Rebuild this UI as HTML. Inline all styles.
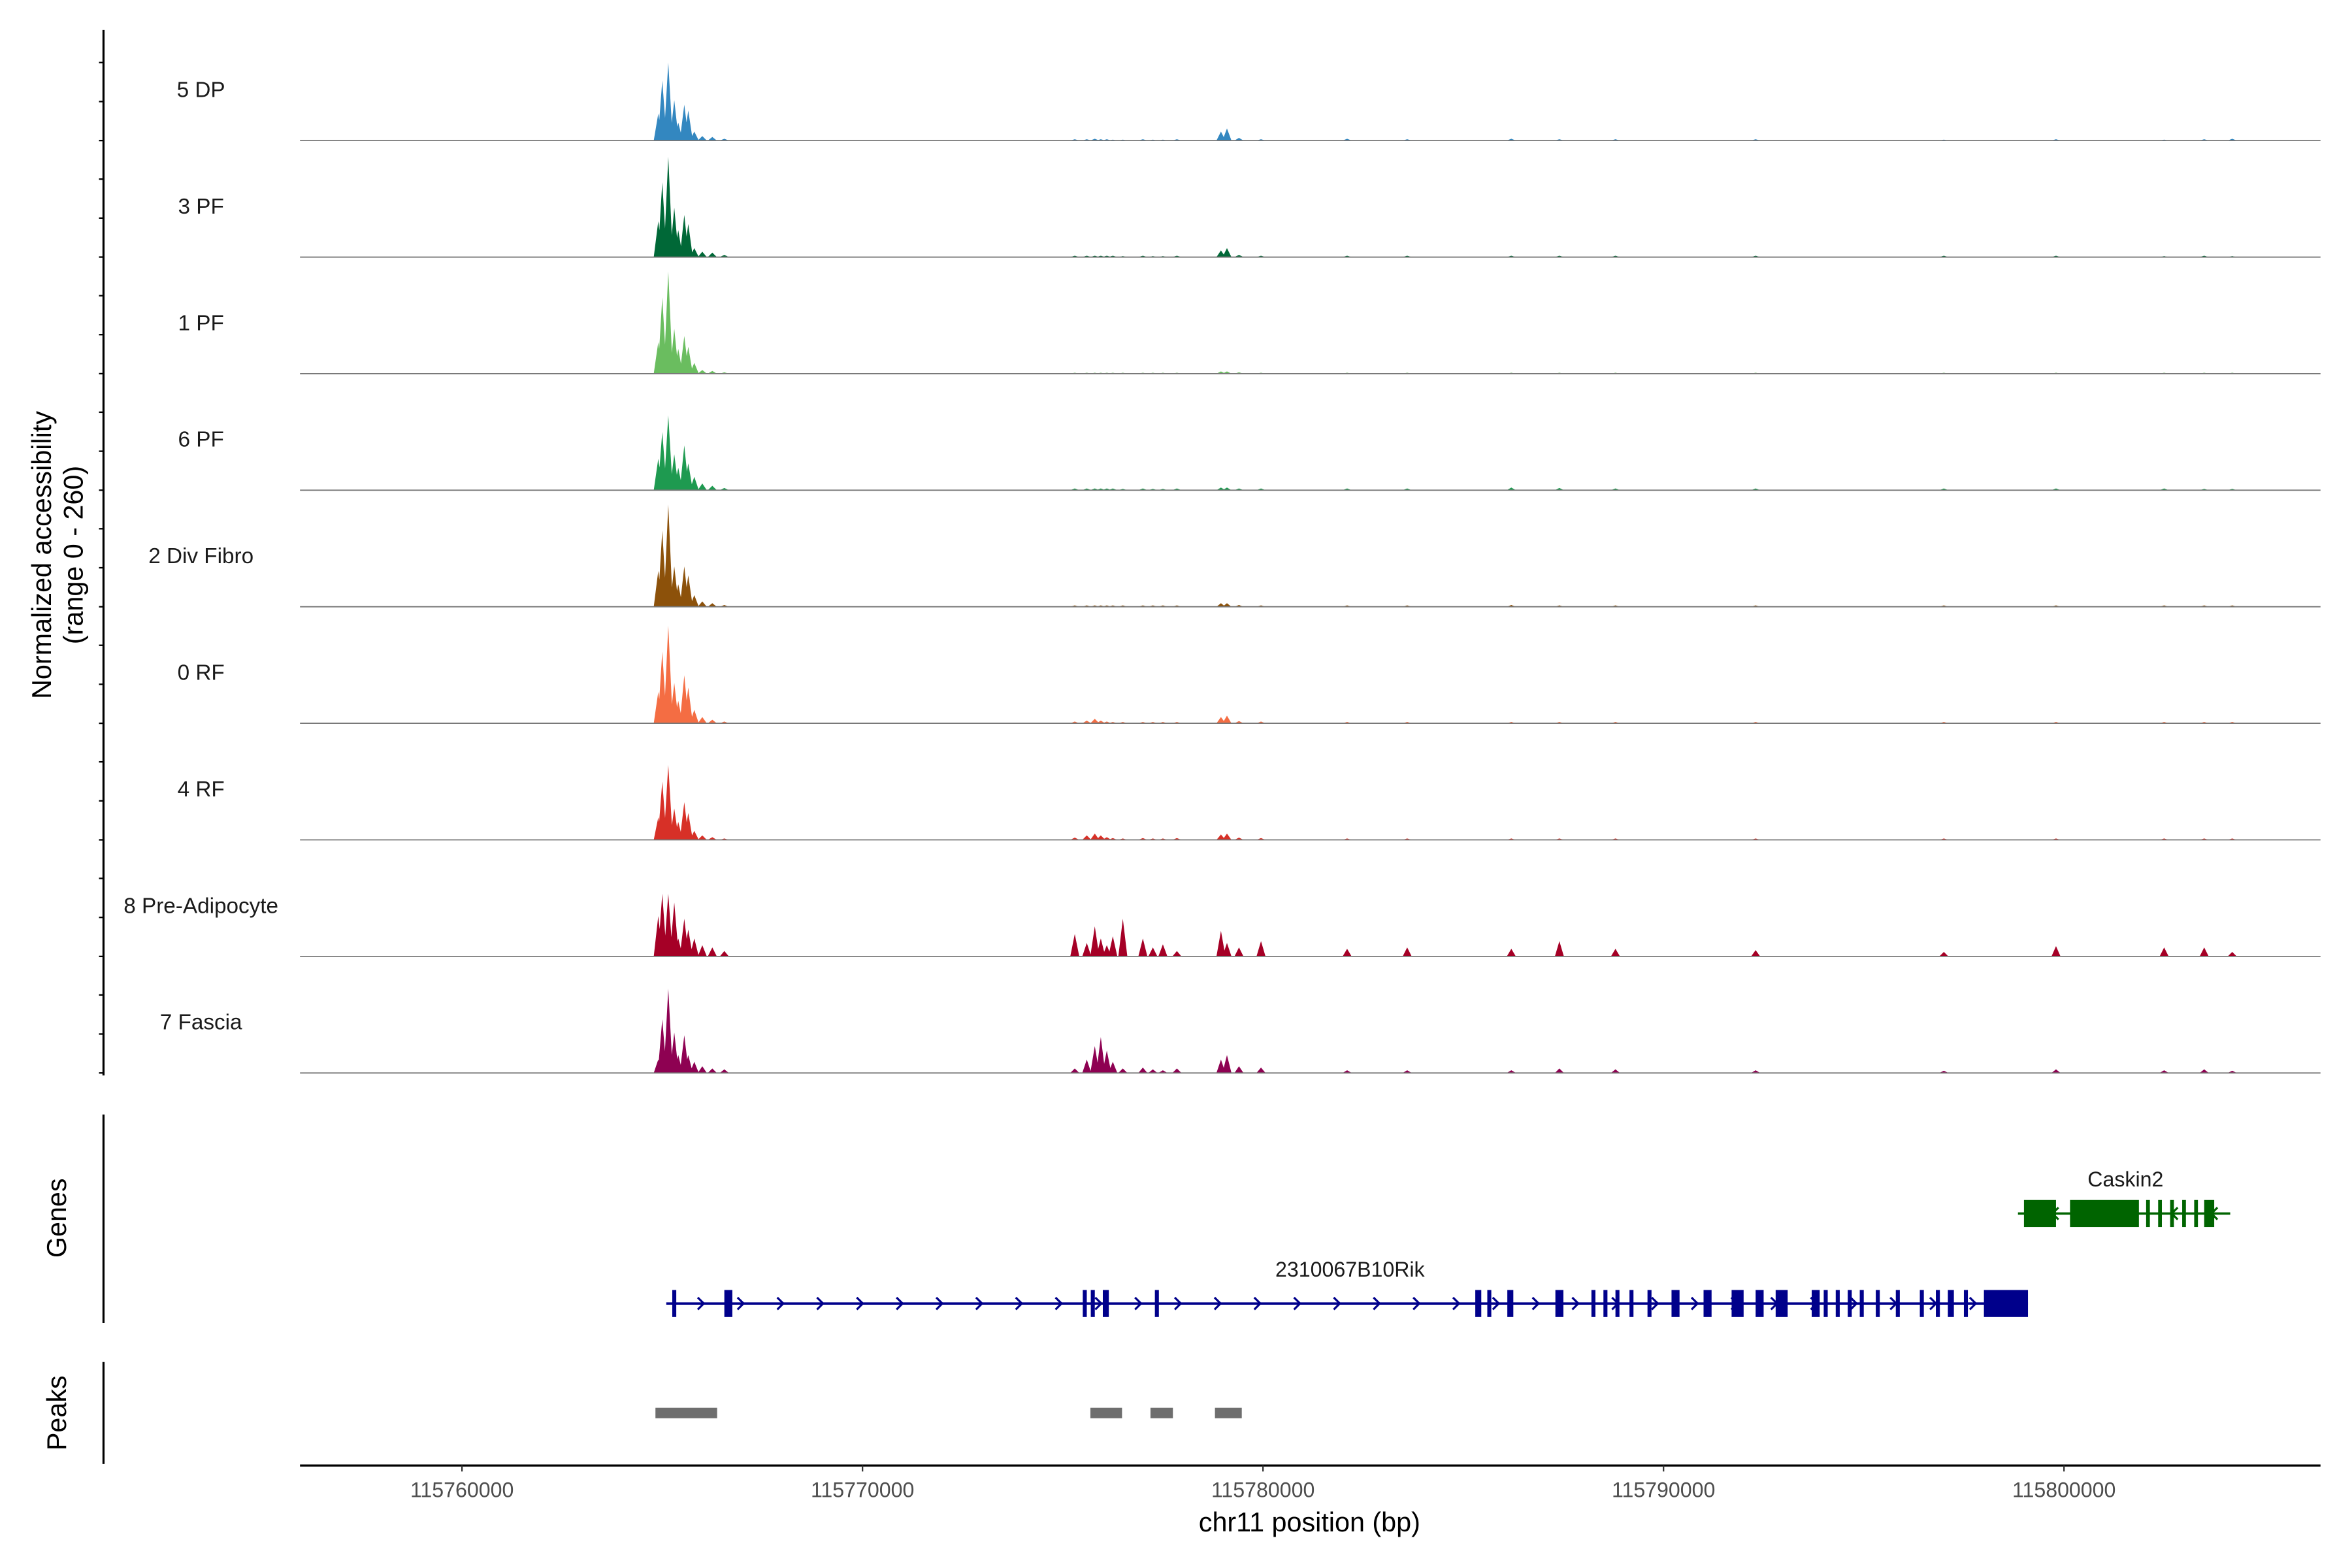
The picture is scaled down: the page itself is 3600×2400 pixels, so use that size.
<!DOCTYPE html>
<html><head><meta charset="utf-8"><style>html,body{margin:0;padding:0;background:#fff}svg{display:block}text{font-family:"Liberation Sans",sans-serif}</style></head>
<body>
<svg id="chart" width="3600" height="2400" viewBox="0 0 1568 1045.33" xmlns="http://www.w3.org/2000/svg">
<g id="tracks"></g>
<g id="genes"></g>
<g id="peaks"></g>
<g id="axes"></g>
</svg>
<script>
// ---- data ----
const trackNames = ["5 DP","3 PF","1 PF","6 PF","2 Div Fibro","0 RF","4 RF","8 Pre-Adipocyte","7 Fascia"];
const trackColors = ["#3387c0","#006837","#6abd5f","#1e9a50","#8c510a","#f46d43","#d73027","#a50026","#8e0152"];
const yMax = 260;
const xTicks = [115760000,115770000,115780000,115790000,115800000];
const xTickLabels = ["115760000","115770000","115780000","115790000","115800000"];
const peakPos = [115764900,115765000,115765150,115765300,115765400,115765550,115765650,115765800,115766000,115766250,115766550,
 115775300,115775600,115775800,115775950,115776100,115776250,115776500,115777000,115777250,115777500,115777850,
 115778950,115779100,115779400,115779950,115782100,115783600,115786200,115787400,115788800,115792300,115797000,115799800,115802500,115803500,115804200];
const sig5DP   = [60,134,174,90,40,80,67,20,10,8,4, 3,3,4,3,3,2,2,3,2,2,3, 20,27,6,3,4,3,4,3,3,3,2,3,2,3,4];
const sig3PF   = [80,167,224,110,60,94,74,20,12,10,5, 3,3,3,3,3,3,2,3,2,2,3, 15,20,5,3,3,3,3,3,3,3,3,3,2,3,2];
const sig1PF   = [70,170,228,100,55,84,60,24,8,6,3, 2,2,2,2,2,2,2,2,2,2,2, 5,5,3,2,2,2,2,2,2,2,2,2,2,2,2];
const sig6PF   = [70,130,167,80,50,100,60,30,15,10,5, 4,4,4,4,4,4,3,4,3,3,4, 6,6,4,4,4,4,6,5,4,4,4,4,4,3,3];
const sigDiv   = [80,170,228,90,50,90,70,26,12,8,4, 3,3,3,3,3,3,3,3,3,3,3, 8,8,4,3,3,3,4,3,3,3,3,3,3,3,3];
const sig0RF   = [70,160,218,90,50,107,80,30,14,8,4, 4,6,10,6,4,3,3,3,3,3,3, 14,17,5,4,3,3,3,3,3,3,3,3,3,3,3];
const sig4RF   = [50,130,167,70,40,84,60,20,10,6,3, 5,10,14,10,6,4,3,4,3,3,4, 12,14,5,4,3,3,3,3,3,3,3,3,3,3,3];
const sigPreAd = [90,140,140,120,40,84,60,40,25,20,12, 50,30,67,40,25,45,84,40,20,27,12, 57,30,20,34,17,20,17,34,17,14,10,23,20,20,10];
const sigFascia= [30,120,188,90,40,84,40,25,15,10,8, 10,30,60,80,50,25,10,12,8,6,10, 30,40,15,12,6,6,6,10,8,6,5,8,6,8,5];
const allSig = [sig5DP,sig3PF,sig1PF,sig6PF,sigDiv,sig0RF,sig4RF,sigPreAd,sigFascia];
const ridExons = [[115765250,115765350,1],[115766550,115766750,1],[115775500,115775600,1],[115775700,115775800,1],[115776000,115776150,1],[115777300,115777400,1],[115785300,115785450,1],[115785600,115785700,1],[115786100,115786250,1],[115787300,115787500,1],[115788200,115788300,1],[115788500,115788600,1],[115788800,115788900,1],[115789150,115789250,1],[115789600,115789700,1],[115790200,115790400,1],[115791000,115791200,1],[115791700,115792000,1],[115792300,115792500,1],[115792800,115793100,1],[115793700,115793900,1],[115794000,115794100,1],[115794300,115794400,1],[115794600,115794700,1],[115794900,115795000,1],[115795300,115795400,1],[115795800,115795900,1],[115796400,115796500,1],[115796800,115796900,1],[115797100,115797250,1],[115797500,115797600,1],[115798000,115799100,1]];
const caskExons = [[115799000,115799800,1],[115800150,115801870,1],[115802050,115802110,1],[115802350,115802410,1],[115802650,115802710,1],[115802950,115803010,1],[115803250,115803310,1],[115803500,115803750,1]];
const peakRegions = [[115764830,115766370],[115775690,115776480],[115777190,115777750],[115778800,115779470]];
// ---- scales ----
const X0=200,X1=1547, BP0=115755955, BP1=115806404;
const xs = bp => X0 + (bp-BP0)/(BP1-BP0)*(X1-X0);
const trackTop=16, trackH=77.7;
const NS="http://www.w3.org/2000/svg";
function mk(tag, attrs, parent){const e=document.createElementNS(NS,tag);for(const k in attrs)e.setAttribute(k,attrs[k]);parent.appendChild(e);return e;}
const gT=document.getElementById('tracks');
allSig.forEach((sig,i)=>{
  const base = trackTop + trackH*(i+1);
  const ys = v => base - v/yMax*trackH;
  const g=mk('g',{},gT);
  
  
  let d='';
  peakPos.forEach((p,j)=>{const x=xs(p);d+=`M${x-3},${base}L${x},${ys(sig[j])}L${x+3},${base}Z`;});
  const path=mk('path',{d:d,fill:trackColors[i]},g);
  
  
  const bl=mk('line',{x1:X0,x2:X1,y1:base,y2:base,stroke:'#777','stroke-width':0.8},g);
  
  
  const t=mk('text',{x:134,y:base-29,'font-size':14.5,'text-anchor':'middle',fill:'#1a1a1a'},g);
  t.textContent=trackNames[i];
  
  
});
// gene panel
const gG=document.getElementById('genes');
function gene(exons,y,color,dir,name,labelX,lineEnd){
  const g=mk('g',{},gG);
  
  
  const s=xs(exons[0][0]), e=xs(lineEnd);
  mk('line',{x1:s-4,x2:e,y1:y,y2:y,stroke:color,'stroke-width':1.6},g);
  for(let x=s+20;x<e;x+=26.5){mk('path',{d:dir>0?`M${x-3},${y-4}L${x+1},${y}L${x-3},${y+4}`:`M${x+3},${y-4}L${x-1},${y}L${x+3},${y+4}`,fill:'none',stroke:color,'stroke-width':1.4},g);}
  exons.forEach(ex=>{const a=xs(ex[0]),b=xs(ex[1]);mk('rect',{x:a,y:y-9,width:Math.max(2.5,b-a),height:18,fill:color},g);});
  const t=mk('text',{x:labelX,y:y-18,'font-size':14,'text-anchor':'middle',fill:'#1a1a1a'},g);
  t.textContent=name;
  
  
}
gene(ridExons,869,'#00008b',1,'2310067B10Rik',900,115799100);
gene(caskExons,809,'#006400',-1,'Caskin2',1417,115804150);
// peaks
const gP=document.getElementById('peaks');
peakRegions.forEach(r=>{
  const rc=mk('rect',{x:xs(r[0]),y:938.5,width:xs(r[1])-xs(r[0]),height:7,fill:'#6e6e6e'},gP);
  
  
});
// axes
const gA=document.getElementById('axes');
mk('line',{x1:69,x2:69,y1:20,y2:717,stroke:'#000','stroke-width':1.4},gA);
for(let i=0;i<9;i++){const base=trackTop+trackH*(i+1);for(let k=0;k<3;k++){const y=base-k*26;mk('line',{x1:66,x2:69,y1:y,y2:y,stroke:'#000','stroke-width':1},gA);}}
mk('line',{x1:69,x2:69,y1:743,y2:882,stroke:'#000','stroke-width':1.4},gA);
mk('line',{x1:69,x2:69,y1:908,y2:976,stroke:'#000','stroke-width':1.4},gA);
mk('line',{x1:X0,x2:X1,y1:977,y2:977,stroke:'#000','stroke-width':1.4},gA);
xTicks.forEach((v,i)=>{const x=xs(v);mk('line',{x1:x,x2:x,y1:977,y2:981,stroke:'#333','stroke-width':1},gA);
 const t=mk('text',{x:x,y:998,'font-size':14,'text-anchor':'middle',fill:'#4d4d4d'},gA);t.textContent=xTickLabels[i];
 
 });
function txt(s,x,y,fs,rot,name){const t=mk('text',{x:x,y:y,'font-size':fs,'text-anchor':'middle',fill:'#000',transform:rot?`rotate(-90 ${x} ${y})`:''},gA);t.textContent=s;
 
 }
txt('chr11 position (bp)',873,1021,18,false,'x-axis-title');
txt('Normalized accessibility',34,370,18,true,'y-axis-title');
txt('(range 0 - 260)',55,370,18,true,'y-axis-subtitle');
txt('Genes',44,812,18,true,'genes-axis-title');
txt('Peaks',44,942,18,true,'peaks-axis-title');
</script>
</body></html>
